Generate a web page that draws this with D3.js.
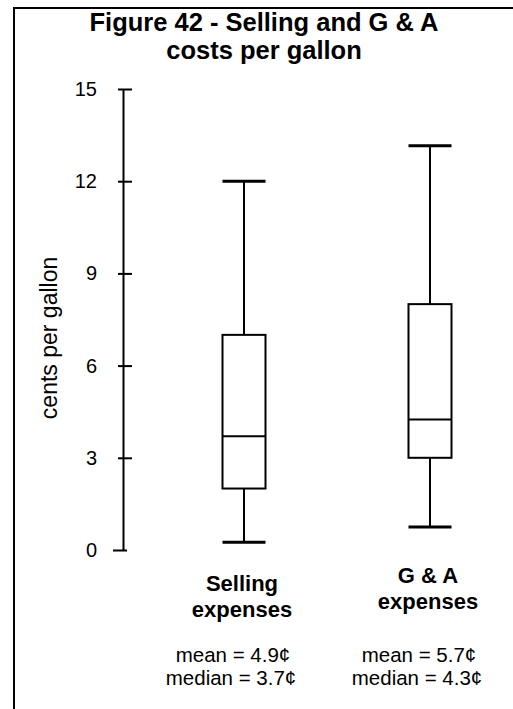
<!DOCTYPE html>
<html>
<head>
<meta charset="utf-8">
<script src="https://cdn.jsdelivr.net/npm/d3@7/dist/d3.min.js"></script>
<style>
  html, body { margin: 0; padding: 0; background: #fff; }
  svg { display: block; }
  text { font-family: "Liberation Sans", Arial, Helvetica, sans-serif; fill: #000; }
</style>
</head>
<body>
<svg id="chart" width="513" height="709"></svg>
<script>
// ---- data ----
const titleLines = ["Figure 42 - Selling and G & A", "costs per gallon"];
const categories = ["Selling expenses", "G & A expenses"];
const categoryLabelLines = [["Selling", "expenses"], ["G & A", "expenses"]];
const whiskerLow = [0.25, 0.75];
const q1 = [2.0, 3.0];
const median = [3.7, 4.25];
const q3 = [7.0, 8.0];
const whiskerHigh = [12.0, 13.15];
const meanLabels = ["mean = 4.9¢", "mean = 5.7¢"];
const medianLabels = ["median = 3.7¢", "median = 4.3¢"];
const yTicks = [0, 3, 6, 9, 12, 15];
const yLabel = "cents per gallon";

// ---- layout ----
const svg = d3.select("#chart");
const W = 513, H = 709;
const axisX = 123;
const y = d3.scaleLinear().domain([0, 15]).range([550, 89]);
const x = d3.scalePoint().domain(categories).range([244, 430]);
const boxW = 43, capW = 43;

// frame (top and left borders)
svg.append("line").attr("x1", 14).attr("x2", W).attr("y1", 8).attr("y2", 8)
  .attr("stroke", "#000").attr("stroke-width", 2);
svg.append("line").attr("x1", 14).attr("x2", 14).attr("y1", 7).attr("y2", H)
  .attr("stroke", "#000").attr("stroke-width", 2);

// title
svg.append("g").selectAll("text").data(titleLines).join("text")
  .attr("x", 264).attr("y", (d, i) => 31 + i * 28)
  .attr("text-anchor", "middle")
  .attr("font-size", 25.5).attr("font-weight", "bold")
  .text(d => d);

// y axis
const yAxis = d3.axisLeft(y).tickValues(yTicks).tickSizeInner(6).tickSizeOuter(0).tickPadding(20);
const gAxis = svg.append("g").attr("transform", `translate(${axisX},0)`).call(yAxis);
gAxis.select(".domain").attr("stroke", "#000").attr("stroke-width", 2);
gAxis.selectAll(".tick line").attr("x1", d => d === 0 ? -10 : -5).attr("x2", d => d === 0 ? 4 : 9)
  .attr("stroke", "#000").attr("stroke-width", 2);
gAxis.selectAll(".tick text").attr("font-size", 20)
  .attr("font-family", "'Liberation Sans', Arial, sans-serif").attr("fill", "#000");

// y label
svg.append("text")
  .attr("transform", `translate(57,${y(6.9)}) rotate(-90)`)
  .attr("text-anchor", "middle")
  .attr("font-size", 23)
  .text(yLabel);

// boxes
const g = svg.append("g").attr("stroke", "#000").attr("stroke-width", 2).attr("fill", "none");
categories.forEach((c, i) => {
  const cx = x(c);
  g.append("line").attr("x1", cx).attr("x2", cx).attr("y1", y(whiskerHigh[i])).attr("y2", y(q3[i]));
  g.append("line").attr("x1", cx).attr("x2", cx).attr("y1", y(q1[i])).attr("y2", y(whiskerLow[i]));
  g.append("line").attr("x1", cx - capW / 2).attr("x2", cx + capW / 2)
    .attr("y1", y(whiskerHigh[i])).attr("y2", y(whiskerHigh[i])).attr("stroke-width", 3);
  g.append("line").attr("x1", cx - capW / 2).attr("x2", cx + capW / 2)
    .attr("y1", y(whiskerLow[i])).attr("y2", y(whiskerLow[i])).attr("stroke-width", 3);
  g.append("rect").attr("x", cx - boxW / 2).attr("width", boxW)
    .attr("y", y(q3[i])).attr("height", y(q1[i]) - y(q3[i])).attr("fill", "#fff");
  g.append("line").attr("x1", cx - boxW / 2).attr("x2", cx + boxW / 2)
    .attr("y1", y(median[i])).attr("y2", y(median[i]));
});

// category labels
const labelTop = [591, 583];
categories.forEach((c, i) => {
  svg.append("g").selectAll("text").data(categoryLabelLines[i]).join("text")
    .attr("x", x(c) - 2).attr("y", (d, j) => labelTop[i] + j * 26)
    .attr("text-anchor", "middle").attr("font-size", 22).attr("font-weight", "bold")
    .text(d => d);
  svg.append("text").attr("x", x(c) - 11).attr("y", 662)
    .attr("text-anchor", "middle").attr("font-size", 20.5).text(meanLabels[i]);
  svg.append("text").attr("x", x(c) - 13).attr("y", 685)
    .attr("text-anchor", "middle").attr("font-size", 20.5).text(medianLabels[i]);
});
</script>
</body>
</html>
